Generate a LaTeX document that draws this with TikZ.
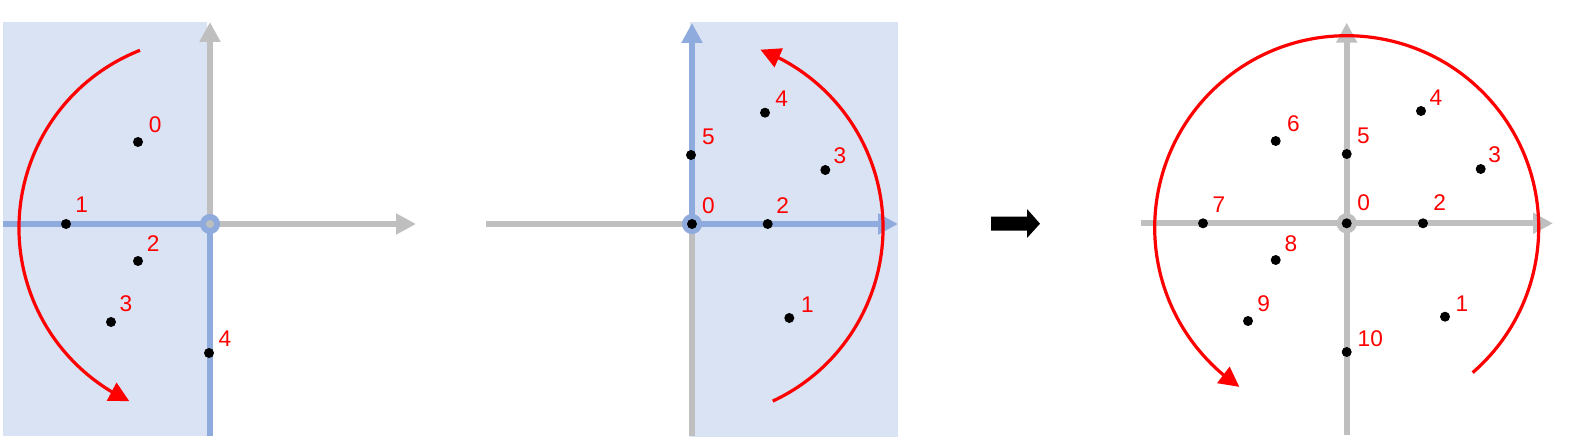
\documentclass[tikz,border=0pt]{standalone}
\usepackage{fontspec}
\setmainfont{Liberation Sans}
\usetikzlibrary{arrows.meta,bending}
\definecolor{paneblue}{HTML}{DAE3F3}
\definecolor{axisblue}{HTML}{8FAADC}
\definecolor{axisgray}{HTML}{BFBFBF}
\definecolor{arcred}{HTML}{FF0000}
\begin{document}
\begin{tikzpicture}[x=0.75pt,y=-0.75pt,
  axline/.style={line width=4.5pt},
  axtip/.style={-{Triangle[length=15pt,width=15pt]}},
  dot/.style={circle,fill=black,inner sep=0pt,minimum size=7.5pt},
  lbl/.style={text=arcred,inner sep=0pt,font=\fontsize{17}{20}\selectfont},
  turn/.style={draw=arcred,line width=2.4pt,-{Triangle[length=15pt,width=15pt,flex]}},
  ringline/.style={line width=4.5pt}]
\fill[white] (0,0) rectangle (1577,441);
\useasboundingbox (0,0) rectangle (1577,441);

% ---------- left panel ----------
\coordinate (O1) at (210,224);
\coordinate (C1) at (210,228);
\coordinate (L1top) at (210,22);
\coordinate (L1right) at (416,224);
\coordinate (L1left) at (3.3,224);
\coordinate (L1bot) at (210,436);
\fill[paneblue] (3.3,22) rectangle (207,436);
\draw[axline,axisgray,axtip] (O1) -- (L1top);
\draw[axline,axisgray,axtip] (O1) -- (L1right);
\draw[axline,axisblue] (L1left) -- (O1);
\draw[axline,axisblue] (O1) -- (L1bot);
\draw[ringline,draw=axisblue,fill=axisgray] (O1) circle[radius=7];
\node[dot] (a0) at (138,142) {};
\node[dot] (a1) at (66,224) {};
\node[dot] (a2) at (138,261) {};
\node[dot] (a3) at (111,322) {};
\node[dot] (a4) at (209,353) {};
\node[lbl] (ta0) at (155.3,124.3) {0};
\node[lbl] (ta1) at (81.7,205) {1};
\node[lbl] (ta2) at (153.3,243.3) {2};
\node[lbl] (ta3) at (126,304) {3};
\node[lbl] (ta4) at (225,338.3) {4};
\draw[turn] (C1) ++(-111.5:191) arc[start angle=-111.5,end angle=-245,radius=191];

% ---------- middle panel ----------
\coordinate (O2) at (692,224);
\coordinate (C2) at (692,228);
\coordinate (M2top) at (692,23);
\coordinate (M2right) at (898,224);
\coordinate (M2left) at (486,224);
\coordinate (M2bot) at (692,436);
\fill[paneblue] (690,22) rectangle (898,436.7);
\draw[axline,axisgray] (M2left) -- (O2);
\draw[axline,axisgray] (O2) -- (M2bot);
\draw[axline,axisblue,axtip] (O2) -- (M2top);
\draw[axline,axisblue,axtip] (O2) -- (M2right);
\draw[ringline,draw=axisblue] (O2) circle[radius=7];
\node[dot] (b0) at (O2) {};
\node[dot] (b1) at (789.3,318) {};
\node[dot] (b2) at (767.7,224) {};
\node[dot] (b3) at (825.3,170) {};
\node[dot] (b4) at (765,112.7) {};
\node[dot] (b5) at (691,155) {};
\node[lbl] (tb0) at (708.3,205.7) {0};
\node[lbl] (tb1) at (807.3,305) {1};
\node[lbl] (tb2) at (782.7,206) {2};
\node[lbl] (tb3) at (840,155.3) {3};
\node[lbl] (tb4) at (781.7,98.7) {4};
\node[lbl] (tb5) at (708.3,136.7) {5};
\draw[turn] (C2) ++(65:191) arc[start angle=65,end angle=-69,radius=191];

% ---------- black arrow ----------
\fill[black] (991,216.7) -- (1027,216.7) -- (1027,209) -- (1040,223.7)
  -- (1027,238) -- (1027,230.7) -- (991,230.7) -- cycle;

% ---------- right panel ----------
\coordinate (O3) at (1346.7,223.3);
\coordinate (C3) at (1346.7,227.7);
\coordinate (R3top) at (1346.7,22.7);
\coordinate (R3right) at (1553,223.3);
\coordinate (R3left) at (1140.7,223.3);
\coordinate (R3bot) at (1346.7,435);
\draw[axline,axisgray,axtip] (R3left) -- (R3right);
\draw[axline,axisgray,axtip] (R3bot) -- (R3top);
\draw[ringline,draw=axisgray] (O3) circle[radius=7];
\node[dot] (c0) at (O3) {};
\node[dot] (c1) at (1445,316.7) {};
\node[dot] (c2) at (1423,223.3) {};
\node[dot] (c3) at (1480.7,169) {};
\node[dot] (c4) at (1421,111) {};
\node[dot] (c5) at (1346.7,154) {};
\node[dot] (c6) at (1275.7,141) {};
\node[dot] (c7) at (1203,223.3) {};
\node[dot] (c8) at (1275.7,260) {};
\node[dot] (c9) at (1248,321) {};
\node[dot] (c10) at (1346.7,352) {};
\node[lbl] (tc0) at (1363.7,202.5) {0};
\node[lbl] (tc1) at (1462,304) {1};
\node[lbl] (tc2) at (1439.7,202.5) {2};
\node[lbl] (tc3) at (1494.7,154.3) {3};
\node[lbl] (tc4) at (1436,97.7) {4};
\node[lbl] (tc5) at (1363.3,135.7) {5};
\node[lbl] (tc6) at (1293.3,124) {6};
\node[lbl] (tc7) at (1219,204.7) {7};
\node[lbl] (tc8) at (1291,243.3) {8};
\node[lbl] (tc9) at (1263.7,304) {9};
\node[lbl] (tc10) at (1370.3,338.7) {10};
\draw[turn] (C3) ++(49:192) arc[start angle=49,end angle=-236,radius=192];
\end{tikzpicture}
\end{document}
